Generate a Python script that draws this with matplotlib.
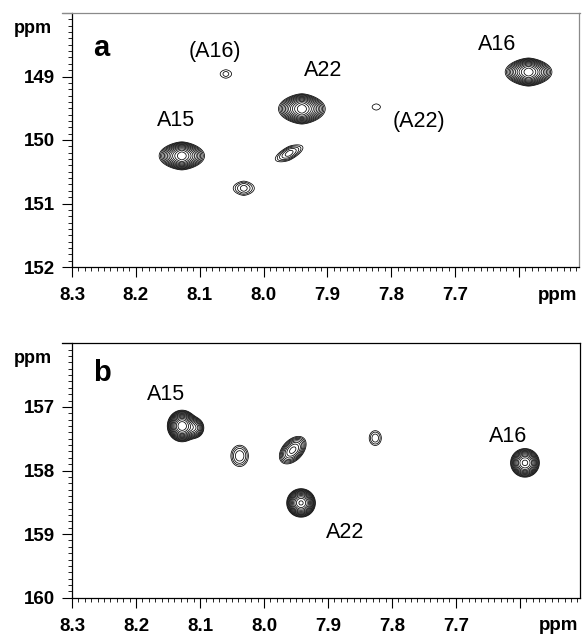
import numpy as np
import matplotlib
matplotlib.use("Agg")
import matplotlib.pyplot as plt
from matplotlib.lines import Line2D
from matplotlib.ticker import MultipleLocator, FixedLocator

plt.rcParams['font.family'] = ['Liberation Sans', 'DejaVu Sans']

# ---------------- data: peak lists (1H ppm, 13C ppm) ----------------
# panel a
a_x     = [8.128, 8.059, 8.031, 7.960, 7.940, 7.8235, 7.585]
a_y     = [150.25, 148.96, 150.76, 150.21, 149.51, 149.48, 148.93]
a_sx    = [0.0170, 0.0160, 0.0170, 0.0190, 0.0175, 0.0230, 0.0175]
a_sy    = [0.125, 0.105, 0.115, 0.100, 0.135, 0.130, 0.125]
a_amp   = [23.0, 1.5, 2.6, 3.4, 23.0, 1.15, 23.0]
a_tilt  = [0.0, 0.0, 0.0, 4.0, 0.0, 0.0, 0.0]
a_labels = ["a", "(A16)", "A15", "A22", "(A22)", "A16"]
a_lab_x  = [8.2545, 8.076, 8.137, 7.906, 7.757, 7.634]
a_lab_y  = [148.55, 148.61, 149.70, 148.90, 149.71, 148.50]

# panel b
b_x     = [8.128, 8.108, 8.038, 7.955, 7.942, 7.826, 7.592]
b_y     = [157.30, 157.33, 157.77, 157.68, 158.51, 157.49, 157.88]
b_sx    = [0.0125, 0.0100, 0.0135, 0.0150, 0.0125, 0.0110, 0.0130]
b_sy    = [0.135, 0.110, 0.165, 0.140, 0.125, 0.135, 0.130]
b_amp   = [30.0, 7.0, 2.8, 7.0, 25.0, 2.1, 20.0]
b_tilt  = [0.0, 0.0, 0.0, 4.5, 0.0, 0.0, 0.0]
b_labels = ["b", "A15", "A16", "A22"]
b_lab_x  = [8.2535, 8.153, 7.619, 7.873]
b_lab_y  = [156.46, 156.81, 157.47, 158.98]

x_ticks = [8.3, 8.2, 8.1, 8.0, 7.9, 7.8, 7.7, 7.6]
x_ticklabels = ["8.3", "8.2", "8.1", "8.0", "7.9", "7.8", "7.7", ""]
a_yticks = [148, 149, 150, 151, 152]
a_yticklabels = ["", "149", "150", "151", "152"]
b_yticks = [156, 157, 158, 159, 160]
b_yticklabels = ["", "157", "158", "159", "160"]

x_lim = (8.3, 7.506)
levels = 1.3 ** np.arange(0, 16)


def field(xs, ys, px, py, sx, sy, amp, tilt, p):
    X, Y = np.meshgrid(xs, ys)
    Z = np.zeros_like(X)
    for x0, y0, wx, wy, A, t in zip(px, py, sx, sy, amp, tilt):
        dx = X - x0
        dy = Y - y0 - t * dx
        Z += A * np.exp(-(np.abs(dx / wx) ** p + (dy / wy) ** 2))
    return X, Y, Z


fig = plt.figure(figsize=(5.83, 6.37), dpi=100)
ax_a = fig.add_axes([72/583, 1-267/637, 507/583, 254/637])
ax_b = fig.add_axes([72/583, 1-597.7/637, 508/583, 254.4/637])

panels = [
    (ax_a, a_x, a_y, a_sx, a_sy, a_amp, a_tilt, (148, 152), a_yticks, a_yticklabels,
     a_labels, a_lab_x, a_lab_y, 1.55, '#8a8a8a', 13),
    (ax_b, b_x, b_y, b_sx, b_sy, b_amp, b_tilt, (156, 160), b_yticks, b_yticklabels,
     b_labels, b_lab_x, b_lab_y, 2.0, 'black', 343.3),
]

for (ax, px, py, sx, sy, amp, tilt, ylim, yt, ytl, labs, lx, ly, p, topcol, ytop) in panels:
    xs = np.linspace(7.5, 8.3, 900)
    ys = np.linspace(ylim[0], ylim[1], 900)
    X, Y, Z = field(xs, ys, px, py, sx, sy, amp, tilt, p)
    ax.contour(X, Y, Z, levels=levels, colors='black', linewidths=0.55)
    ax.set_xlim(*x_lim)
    ax.set_ylim(ylim[1], ylim[0])
    ax.xaxis.set_major_locator(FixedLocator(x_ticks))
    ax.set_xticklabels(x_ticklabels)
    ax.xaxis.set_minor_locator(MultipleLocator(0.01))
    ax.set_yticks(yt)
    ax.set_yticklabels(ytl)
    ax.yaxis.set_minor_locator(MultipleLocator(0.1))
    ax.tick_params(axis='both', which='major', direction='out', length=7.5, width=0.8,
                   labelsize=13.5, top=False, right=False)
    ax.tick_params(axis='x', which='major', pad=7)
    ax.tick_params(axis='y', which='major', pad=5)
    ax.tick_params(axis='both', which='minor', direction='out', length=2.8, width=0.6,
                   top=False, right=False)
    for lab in ax.get_xticklabels() + ax.get_yticklabels():
        lab.set_fontweight('bold')
    ax.spines['top'].set_visible(False)
    ax.spines['right'].set_color(topcol)
    for s in ['left', 'bottom', 'right']:
        ax.spines[s].set_linewidth(0.9)
    # top border extending left as the first major tick
    fig.add_artist(Line2D([62/583, 579.5/583], [1-ytop/637, 1-ytop/637],
                          color=topcol, lw=0.9, transform=fig.transFigure))
    # annotations
    for i, (t, x, y) in enumerate(zip(labs, lx, ly)):
        if i == 0:
            ax.text(x, y, t, fontsize=21, fontweight='bold', ha='center', va='center')
        else:
            ax.text(x, y, t, fontsize=15.5, ha='center', va='center')
    ax.text(-0.077, 0.94, "ppm", transform=ax.transAxes, fontsize=13, fontweight='bold',
            ha='center', va='center')
    ax.text(0.957, -0.128, "ppm", transform=ax.transAxes, fontsize=13.5, fontweight='bold',
            ha='center', va='baseline')

fig.savefig("out.png", dpi=100)
